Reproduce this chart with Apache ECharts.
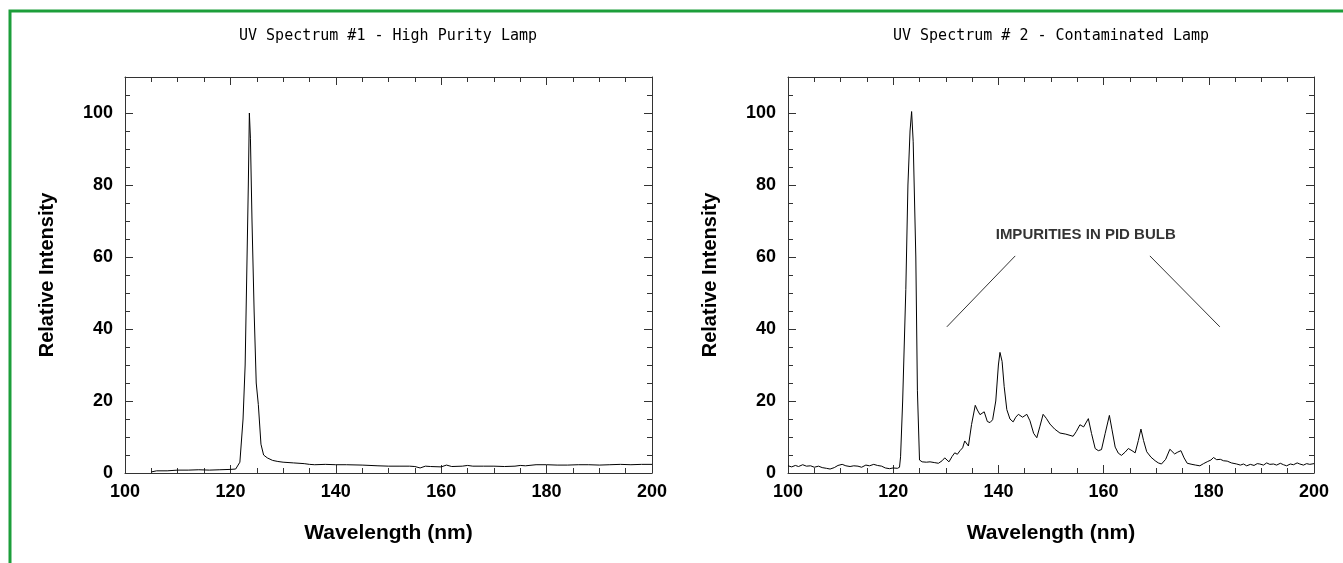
<!DOCTYPE html>
<html lang="en">

<head>
    <meta charset="UTF-8">
    <title>UV Spectra</title>
    <script src="https://cdn.jsdelivr.net/npm/echarts/dist/echarts.min.js"></script>
    <style>
        html, body { margin: 0; padding: 0; background: #fff; }
        #chart { width: 1343px; height: 563px; }
    </style>
</head>

<body>
    <div id="chart"></div>

    <script>
        // spectrum #1 - high purity lamp (wavelength nm, relative intensity)
        const spec1X = [105, 106, 108, 110, 112, 114, 116, 118, 120, 121, 121.8, 122.4, 122.8, 123.1, 123.4, 123.6, 123.8,
            124.1, 124.5, 124.9, 125.3, 125.8, 126.3, 127, 128, 129, 130, 132, 134, 135, 136, 138, 140, 142, 145, 148,
            150, 152, 154, 155, 156, 157, 158, 160, 161, 162, 164, 165, 166, 168, 170, 172, 174, 175, 176, 178, 180,
            182, 184, 186, 188, 190, 192, 194, 196, 198, 200];
        const spec1Y = [0.3, 0.6, 0.6, 0.8, 0.8, 0.9, 0.8, 0.9, 1.0, 1.1, 3, 15, 30, 55, 80, 100, 93,
            70, 45, 25, 19, 8, 5, 4.2, 3.5, 3.2, 3.0, 2.8, 2.6, 2.4, 2.3, 2.4, 2.3, 2.3, 2.2, 2.0,
            1.9, 1.9, 1.9, 1.8, 1.4, 1.9, 1.8, 1.7, 2.2, 1.8, 1.9, 2.1, 1.9, 1.9, 1.9, 1.8, 1.9, 2.1, 2.0, 2.3, 2.3,
            2.2, 2.2, 2.3, 2.3, 2.2, 2.3, 2.4, 2.3, 2.4, 2.4];

        // spectrum #2 - contaminated lamp
        const spec2X = [100, 100.7, 101.4, 102, 102.8, 103.5, 104.3, 105, 105.8, 106.5, 107.3, 108, 108.8, 109.5, 110.3,
            111, 111.8, 112.5, 113.3, 114, 114.8, 115.5, 116.3, 117, 117.8, 118.5, 119.3, 120, 120.8, 121.2, 121.4,
            121.8, 122.4, 122.8, 123.2, 123.5, 123.8, 124.3, 124.6, 125.0, 125.5, 126.3, 127, 127.8, 128.6, 129.3,
            129.8, 130.6, 131.2, 131.7, 132.2, 132.7, 133.2, 133.6, 134.3, 134.9, 135.6, 136, 136.5, 137.3, 137.9,
            138.4, 138.9, 139.5, 140.0, 140.3, 140.7, 141.1, 141.6, 142.2, 142.8, 143.3, 143.8, 144.6, 145.4, 146,
            146.7, 147.3, 147.9, 148.5, 149.1, 149.8, 150.7, 151.7, 152.8, 154.2, 154.8, 155.5, 156.2, 157.1, 157.7,
            158.4, 159.0, 159.6, 160.3, 161.1, 161.6, 162.2, 162.8, 163.4, 164.1, 164.7, 165.4, 166, 166.6, 167.1,
            167.6, 168.2, 169, 169.8, 170.4, 171, 171.8, 172.6, 173.5, 174.1, 174.7, 175.3, 175.9, 176.8, 177.5,
            178.3, 179, 179.8, 180.4, 180.9, 181.5, 182.2, 182.8, 183.5, 184.3, 185.3, 186, 186.6, 187.2, 187.9,
            188.6, 189.2, 189.7, 190.4, 191, 191.6, 192.3, 192.9, 193.6, 194.2, 194.8, 195.5, 196.1, 196.8, 197.3,
            198, 198.6, 199.2, 200];
        const spec2Y = [2.0, 1.7, 2.1, 1.8, 2.3, 1.9, 2.0, 1.6, 1.9, 1.5, 1.3, 1.1, 1.5, 2.1, 2.4,
            2.0, 1.8, 2.0, 1.9, 1.6, 2.2, 2.0, 2.4, 2.1, 1.9, 1.4, 1.2, 1.4, 1.3, 1.6, 4.5,
            20, 51, 80, 95, 100.4, 92, 60, 23, 3.6, 3.1, 3.0, 3.1, 2.9, 2.7, 3.4,
            4.2, 3.1, 4.6, 5.6, 5.2, 6.2, 7.0, 8.9, 7.5, 13.5, 18.8, 17.5, 16.2, 17, 14.3,
            14.0, 14.8, 20, 30, 33.5, 31, 24, 17.6, 15, 14.2, 15.5, 16.3, 15.5, 16.3, 14.5,
            11, 9.8, 13, 16.3, 15.2, 13.6, 12.2, 11.1, 10.8, 10.2, 11.5, 13.4, 12.8, 15.1, 11,
            6.8, 6.2, 6.5, 11, 16.0, 12, 7.2, 5.5, 4.9, 5.8, 6.8, 6.2, 5.6, 9, 12.2,
            9, 5.9, 4.4, 3.4, 2.8, 2.5, 3.8, 6.6, 5.3, 5.8, 6.2, 4.2, 2.7, 2.4, 2.2,
            2.0, 2.6, 3.2, 3.6, 4.3, 3.7, 3.8, 3.4, 3.3, 2.8, 2.5, 2.2, 2.5, 2.0, 2.4,
            2.1, 2.6, 2.5, 2.2, 2.8, 2.4, 2.5, 2.2, 2.7, 2.3, 2.0, 2.5, 2.3, 2.8, 2.5,
            2.2, 2.6, 2.4, 2.6];

        // annotation pointer lines on spectrum #2
        const noteLeftX = [130.2, 143.2];
        const noteLeftY = [40.6, 60.3];
        const noteRightX = [168.8, 182.1];
        const noteRightY = [60.3, 40.6];
        const noteText = 'IMPURITIES IN PID BULB';
        const notePos = [156.6, 66.1];

        const titles = ['UV Spectrum #1 - High Purity Lamp', 'UV Spectrum # 2 - Contaminated Lamp'];

        const zip = (xs, ys) => xs.map((x, i) => [x, ys[i]]);

        const font = 'Liberation Sans, Arial, sans-serif';
        const axisColor = '#333';

        function xAxes(gridIndex) {
            const base = {
                gridIndex: gridIndex,
                type: 'value',
                min: 100,
                max: 200,
                interval: 20,
                axisLine: { show: true, onZero: false, lineStyle: { color: axisColor, width: 1 } },
                axisTick: { show: true, inside: true, length: 8, lineStyle: { color: axisColor } },
                minorTick: { show: true, splitNumber: 4, length: 5, lineStyle: { color: axisColor } },
                splitLine: { show: false }
            };
            return [
                Object.assign({}, base, {
                    position: 'bottom',
                    name: 'Wavelength (nm)',
                    nameLocation: 'middle',
                    nameGap: 50,
                    nameTextStyle: { fontFamily: font, fontSize: 21, fontWeight: 'bold', color: '#000' },
                    axisLabel: { fontFamily: font, fontSize: 18, fontWeight: 'bold', color: '#000', margin: 10 }
                }),
                Object.assign({}, base, { position: 'top', axisLabel: { show: false } })
            ];
        }

        function yAxes(gridIndex) {
            const base = {
                gridIndex: gridIndex,
                type: 'value',
                min: 0,
                max: 110,
                interval: 20,
                axisLine: { show: true, onZero: false, lineStyle: { color: axisColor, width: 1 } },
                axisTick: { show: true, inside: true, length: 8, lineStyle: { color: axisColor } },
                minorTick: { show: true, splitNumber: 4, length: 5, lineStyle: { color: axisColor } },
                splitLine: { show: false }
            };
            return [
                Object.assign({}, base, {
                    position: 'left',
                    name: 'Relative Intensity',
                    nameLocation: 'middle',
                    nameGap: 68,
                    nameTextStyle: { fontFamily: font, fontSize: 20, fontWeight: 'bold', color: '#000' },
                    axisLabel: { fontFamily: font, fontSize: 18, fontWeight: 'bold', color: '#000', margin: 12, showMaxLabel: false }
                }),
                Object.assign({}, base, { position: 'right', axisLabel: { show: false } })
            ];
        }

        const chart = echarts.init(document.getElementById('chart'));

        const lineStyle = { color: '#000', width: 1 };
        const titleStyle = { fontFamily: 'DejaVu Sans Mono', fontSize: 15, fontWeight: 'normal', color: '#000' };

        const option = {
            animation: false,
            backgroundColor: '#fff',
            title: [
                { text: titles[0], left: 388, top: 29, textAlign: 'center', padding: 0, textStyle: titleStyle },
                { text: titles[1], left: 1051, top: 29, textAlign: 'center', padding: 0, textStyle: titleStyle }
            ],
            grid: [
                { left: 125, right: 691, top: 77, bottom: 90 },
                { left: 788, right: 29, top: 77, bottom: 90 }
            ],
            xAxis: xAxes(0).concat(xAxes(1)),
            yAxis: yAxes(0).concat(yAxes(1)),
            graphic: [
                {
                    type: 'polyline',
                    shape: { points: [[10, 563], [10, 11], [1343, 11]] },
                    style: { stroke: '#1c9e3a', lineWidth: 3, fill: null },
                    silent: true
                }
            ],
            series: [
                {
                    name: 'Spectrum 1', type: 'line', xAxisIndex: 0, yAxisIndex: 0,
                    data: zip(spec1X, spec1Y), showSymbol: false, lineStyle: lineStyle
                },
                {
                    name: 'Spectrum 2', type: 'line', xAxisIndex: 2, yAxisIndex: 2,
                    data: zip(spec2X, spec2Y), showSymbol: false, lineStyle: lineStyle
                },
                {
                    name: 'pointer left', type: 'line', xAxisIndex: 2, yAxisIndex: 2,
                    data: zip(noteLeftX, noteLeftY), showSymbol: false, lineStyle: { color: '#333', width: 1 }
                },
                {
                    name: 'pointer right', type: 'line', xAxisIndex: 2, yAxisIndex: 2,
                    data: zip(noteRightX, noteRightY), showSymbol: false, lineStyle: { color: '#333', width: 1 }
                },
                {
                    name: 'note', type: 'scatter', xAxisIndex: 2, yAxisIndex: 2,
                    data: [notePos], symbolSize: 0,
                    label: {
                        show: true, position: 'inside', formatter: noteText,
                        fontFamily: font, fontSize: 15, fontWeight: 'bold', color: '#000'
                    }
                }
            ]
        };

        chart.setOption(option);
    </script>

</body>

</html>
